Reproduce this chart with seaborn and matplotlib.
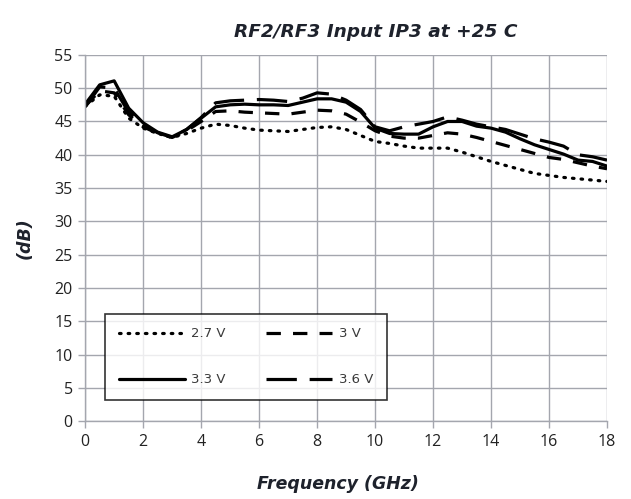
import numpy as np
import pandas as pd
import matplotlib
matplotlib.use("Agg")
import matplotlib.pyplot as plt
import seaborn as sns
from matplotlib.lines import Line2D

# Frequency sweep (GHz)
freq = [0.0, 0.5, 1.0, 1.5, 2.0, 2.5, 3.0, 3.5, 4.0, 4.5, 5.0, 5.5, 6.0, 6.5,
        7.0, 7.5, 8.0, 8.5, 9.0, 9.5, 10.0, 10.5, 11.0, 11.5, 12.0, 12.5,
        13.0, 13.5, 14.0, 14.5, 15.0, 15.5, 16.0, 16.5, 17.0, 17.5, 18.0]

# Input IP3 (dB) per supply voltage
ip3_2v7 = [47.3, 49.0, 48.8, 45.5, 44.0, 43.2, 42.6, 43.2, 44.0, 44.6, 44.4,
           44.0, 43.7, 43.6, 43.5, 43.8, 44.1, 44.2, 43.8, 42.9, 42.0, 41.7,
           41.3, 41.0, 41.0, 41.0, 40.4, 39.7, 39.0, 38.4, 37.8, 37.2, 36.9,
           36.6, 36.4, 36.2, 36.0]
ip3_3v0 = [47.3, 49.6, 49.3, 46.0, 44.2, 43.2, 42.6, 43.6, 45.0, 46.5, 46.6,
           46.4, 46.3, 46.2, 46.1, 46.4, 46.7, 46.6, 46.1, 44.9, 43.6, 42.8,
           42.5, 42.5, 42.9, 43.3, 43.1, 42.6, 42.0, 41.4, 40.8, 40.2, 39.6,
           39.3, 38.8, 38.3, 37.9]
ip3_3v3 = [47.6, 50.5, 51.1, 47.0, 44.8, 43.4, 42.7, 43.8, 45.5, 47.2, 47.5,
           47.6, 47.5, 47.5, 47.4, 47.9, 48.4, 48.4, 47.9, 46.5, 44.0, 43.2,
           43.1, 43.1, 44.2, 45.0, 45.0, 44.3, 44.0, 43.4, 42.4, 41.5, 40.8,
           40.1, 39.2, 39.0, 38.3]
ip3_3v6 = [47.2, 50.2, 50.0, 46.4, 44.5, 43.3, 42.6, 43.8, 45.6, 47.8, 48.1,
           48.2, 48.3, 48.2, 48.0, 48.5, 49.3, 49.1, 48.2, 46.8, 44.2, 43.6,
           44.2, 44.6, 45.0, 45.7, 45.2, 44.6, 44.2, 43.8, 43.1, 42.4, 41.9,
           41.3, 40.0, 39.7, 39.2]

voltages = ["2.7 V", "3 V", "3.3 V", "3.6 V"]
series = [ip3_2v7, ip3_3v0, ip3_3v3, ip3_3v6]

x_ticks = [0, 2, 4, 6, 8, 10, 12, 14, 16, 18]
y_ticks = [0, 5, 10, 15, 20, 25, 30, 35, 40, 45, 50, 55]

df = pd.concat(
    [pd.DataFrame({"freq": freq, "ip3": vals, "supply": v})
     for v, vals in zip(voltages, series)],
    ignore_index=True,
)

sns.set_theme(style="white")
plt.rcParams["font.family"] = ["Open Sans", "DejaVu Sans"]

line_styles = {
    "2.7 V": dict(dashes=(0.5, 2.2), dash_capstyle="round"),
    "3 V": dict(dashes=(4.5, 3.8), dash_capstyle="butt"),
    "3.3 V": dict(dashes=(None, None), dash_capstyle="butt"),
    "3.6 V": dict(dashes=(9.5, 4.0), dash_capstyle="butt"),
}

fig = plt.figure(figsize=(6.31, 4.99), dpi=100)
ax = fig.add_axes([0.135, 0.156, 0.827, 0.734])

lw = 2.3
for v in voltages:
    sub = df[df["supply"] == v]
    sns.lineplot(data=sub, x="freq", y="ip3", ax=ax, color="black",
                 linewidth=lw, legend=False)
    ln = ax.lines[-1]
    st = line_styles[v]
    if st["dashes"][0] is not None:
        ln.set_dashes(st["dashes"])
    ln.set_dash_capstyle(st["dash_capstyle"])

ax.set_xlim(0, 18)
ax.set_ylim(0, 55)
ax.set_xticks(x_ticks)
ax.set_yticks(y_ticks)
ax.grid(True, color="#a4a6ae", linewidth=1.0)
ax.set_axisbelow(True)
for s in ["top", "right"]:
    ax.spines[s].set_visible(False)
for s in ["left", "bottom"]:
    ax.spines[s].set_color("#a4a6ae")
    ax.spines[s].set_linewidth(1.0)
ax.tick_params(axis="both", which="both", direction="out", length=5,
               width=1.0, color="#a4a6ae", labelsize=11.5, labelcolor="#222222",
               left=True, bottom=True, pad=4)

label_font = {"family": "DejaVu Sans", "weight": "bold", "style": "italic",
              "color": "#1e222c"}
ax.set_xlabel("Frequency (GHz)", fontdict=dict(label_font, size=12.5))
ax.xaxis.set_label_coords(0.485, -0.148)
ax.set_ylabel("(dB)", fontdict=dict(label_font, size=12.5))
ax.yaxis.set_label_coords(-0.098, 0.5)
ax.set_title("RF2/RF3 Input IP3 at +25 C", fontdict=dict(label_font, size=13.3),
             pad=13, x=0.557)

# Legend rows: 2.7 V | 3 V, then 3.3 V | 3.6 V (matplotlib fills by column)
order = [0, 2, 1, 3]
handles = []
for v in voltages:
    st = line_styles[v]
    h = Line2D([0], [0], color="black", linewidth=lw)
    if st["dashes"][0] is not None:
        h.set_dashes(st["dashes"])
    h.set_dash_capstyle(st["dash_capstyle"])
    handles.append(h)

leg = ax.legend([handles[i] for i in order], [voltages[i] for i in order],
                ncol=2, loc="lower left",
                bbox_to_anchor=(0.038, 0.057, 0.54, 0.24), mode="expand",
                frameon=True, fancybox=False, edgecolor="black",
                handlelength=5.0, handletextpad=0.5, columnspacing=1.2,
                labelspacing=2.5, borderpad=1.05, borderaxespad=0,
                prop={"family": "DejaVu Sans", "size": 9.5})
leg.get_frame().set_linewidth(1.2)
for t in leg.get_texts():
    t.set_color("#3a3a3a")

fig.savefig("out.png", dpi=100, facecolor="white")
